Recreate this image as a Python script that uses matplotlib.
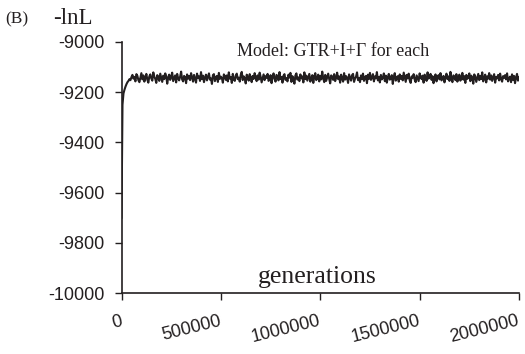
import numpy as np
import matplotlib.pyplot as plt

# sampling interval of the chain (generations between samples)
sample_every = 5000

# -lnL, one value per sample
burnin = [-9700, -9250, -9205, -9190, -9178, -9168, -9160, -9155, -9148, -9152, -9140]
steady = [
    -9131, -9146, -9139, -9157, -9128, -9135, -9152, -9160, -9141, -9124, -9149, -9133, -9158, -9144, -9127,
    -9150, -9162, -9137, -9129, -9145, -9154, -9121, -9138, -9147, -9163, -9132, -9140, -9155, -9126, -9143,
    -9159, -9134, -9148, -9125, -9136, -9166, -9142, -9130, -9151, -9139, -9122, -9156, -9145, -9133, -9161,
    -9127, -9144, -9153, -9138, -9118, -9149, -9157, -9135, -9141, -9164, -9129, -9146, -9136, -9152, -9124,
    -9140, -9158, -9131, -9147, -9162, -9126, -9143, -9137, -9155, -9120, -9148, -9134, -9160, -9142, -9130,
    -9153, -9139, -9125, -9150, -9145, -9167, -9132, -9128, -9156, -9141, -9135, -9159, -9123, -9147, -9138,
    -9144, -9162, -9129, -9136, -9151, -9133, -9157, -9121, -9146, -9140, -9163, -9127, -9149, -9155, -9134,
    -9126, -9148, -9142, -9158, -9131, -9119, -9152, -9137, -9145, -9165, -9130, -9139, -9154, -9128, -9143,
    -9160, -9135, -9147, -9124, -9141, -9156, -9133, -9150, -9122, -9138, -9161, -9145, -9129, -9152, -9136,
    -9143, -9127, -9155, -9149, -9132, -9164, -9140, -9125, -9146, -9158, -9131, -9137, -9153, -9120, -9148,
    -9139, -9162, -9134, -9128, -9151, -9144, -9157, -9130, -9142, -9123, -9159, -9136, -9147, -9166, -9133,
    -9125, -9150, -9141, -9156, -9129, -9145, -9137, -9161, -9121, -9148, -9134, -9154, -9140, -9127, -9158,
    -9146, -9132, -9163, -9138, -9124, -9152, -9143, -9130, -9157, -9135, -9149, -9118, -9144, -9160, -9131,
    -9155, -9140, -9126, -9147, -9165, -9133, -9139, -9151, -9128, -9156, -9142, -9122, -9148, -9137, -9162,
    -9130, -9145, -9158, -9124, -9150, -9136, -9143, -9163, -9129, -9141, -9154, -9132, -9127, -9159, -9146,
    -9138, -9121, -9152, -9144, -9160, -9133, -9148, -9126, -9155, -9140, -9135, -9164, -9130, -9147, -9123,
    -9151, -9142, -9128, -9157, -9137, -9145, -9120, -9153, -9139, -9161, -9131, -9149, -9143, -9125, -9156,
    -9134, -9162, -9141, -9127, -9150, -9146, -9132, -9167, -9138, -9124, -9154, -9144, -9136, -9158, -9129,
    -9147, -9135, -9153, -9122, -9140, -9159, -9131, -9145, -9126, -9152, -9163, -9137, -9142, -9128, -9150,
    -9160, -9133, -9144, -9156, -9125, -9139, -9148, -9134, -9162, -9130, -9141, -9155, -9121, -9146, -9138,
    -9127, -9151, -9136, -9164, -9143, -9129, -9157, -9140, -9132, -9149, -9124, -9153, -9145, -9135, -9161,
    -9142, -9126, -9148, -9137, -9155, -9119, -9146, -9160, -9133, -9139, -9152, -9128, -9158, -9141, -9130,
    -9154, -9145, -9123, -9150, -9136, -9163, -9131, -9147, -9140, -9125, -9156, -9134, -9144, -9166, -9129,
    -9138, -9159, -9143, -9127, -9152, -9135, -9148, -9121, -9157, -9142, -9130, -9161, -9137, -9146, -9124,
    -9150, -9133, -9155, -9141, -9128, -9162, -9139, -9145, -9131, -9153, -9126, -9147, -9158, -9136, -9143,
    -9132, -9149, -9125, -9157, -9144, -9138, -9160, -9129, -9151, -9135, -9164, -9142, -9127, -9154, -9140,
]
lnL = np.array(burnin + steady)
gens = np.arange(len(lnL)) * sample_every

xticks = [0, 500000, 1000000, 1500000, 2000000]
yticks = [-10000, -9800, -9600, -9400, -9200, -9000]

ink = '#231f20'
serif = 'Liberation Serif'
sans = 'Liberation Sans'

fig = plt.figure(figsize=(5.25, 3.54), dpi=100)
ax = fig.add_axes([121.5 / 525, 1 - 293 / 354, (519 - 121.5) / 525, (293 - 42) / 354])

ax.plot(gens, lnL, color=ink, lw=1.5)

ax.set_xlim(0, 2000000)
ax.set_ylim(-10000, -9000)
ax.set_xticks(xticks)
ax.set_yticks(yticks)
ax.set_xticklabels([str(v) for v in xticks])
ax.set_yticklabels([str(v) for v in yticks])

for s in ['top', 'right']:
    ax.spines[s].set_visible(False)
for s in ['left', 'bottom']:
    ax.spines[s].set_linewidth(1.2)
    ax.spines[s].set_color(ink)

ax.tick_params(axis='x', direction='out', length=5, width=1.0, color=ink, pad=15)
ax.tick_params(axis='y', direction='out', length=5, width=1.0, color=ink, pad=7)
for lab in ax.get_xticklabels():
    lab.set_rotation(14)
    lab.set_rotation_mode('anchor')
    lab.set_ha('right')
    lab.set_va('center')
    lab.set_fontfamily(sans)
    lab.set_fontsize(13)
    lab.set_color(ink)
for lab in ax.get_yticklabels():
    lab.set_fontfamily(sans)
    lab.set_fontsize(13)
    lab.set_color(ink)

fig.text(5 / 525, 1 - 19 / 354, '(B)', family=serif, fontsize=12.5, va='center', color=ink)
fig.text(53 / 525, 1 - 19 / 354, '-lnL', family=serif, fontsize=16.5, va='center', color=ink)
fig.text(237 / 525, 1 - 52 / 354, 'Model: GTR+I+\u0393 for each', family=serif,
         fontsize=13, va='center', color=ink)
fig.text(317 / 525, 1 - 277 / 354, 'generations', family=serif, fontsize=18.5,
         ha='center', va='center', color=ink)

fig.savefig('out.png', dpi=100)
